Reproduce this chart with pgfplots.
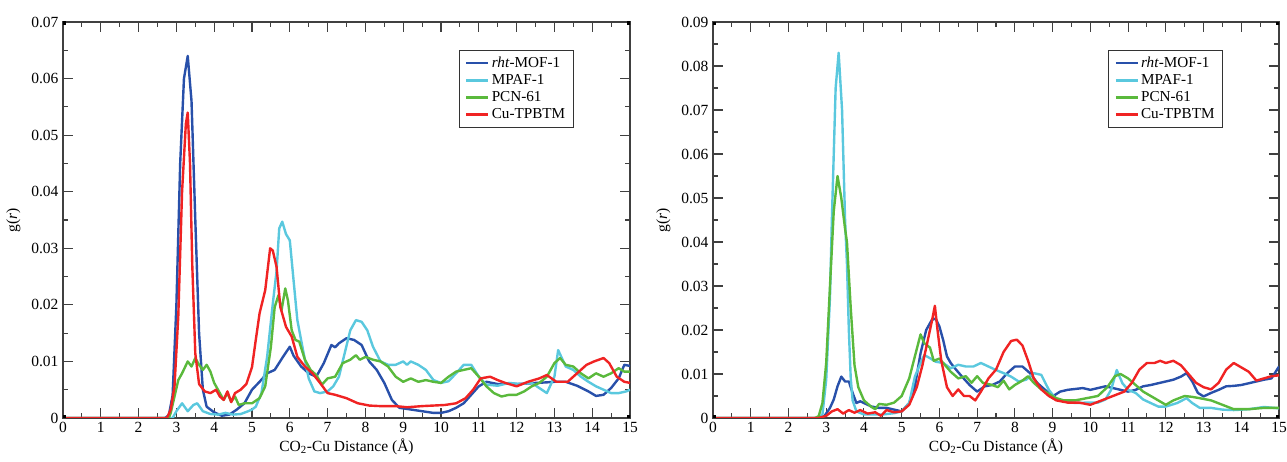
\documentclass[border=0pt]{standalone}
\usepackage{fontspec}
\setmainfont{Liberation Serif}
\usepackage{pgfplots}
\pgfplotsset{compat=1.18}

\definecolor{cBlue}{RGB}{40,80,170}
\definecolor{cCyan}{RGB}{90,200,222}
\definecolor{cGreen}{RGB}{90,185,60}
\definecolor{cRed}{RGB}{240,35,35}

\pgfplotsset{
  rdf/.style={
    scale only axis,
    anchor=south west,
    xmin=0, xmax=15, ymin=0,
    xtick distance=1,
    ytick distance=0.01,
    minor x tick num=1,
    minor y tick num=1,
    tick align=inside,
    major tick length=10pt,
    minor tick length=5pt,
    axis line style={line width=1.3pt, black!75},
    every tick/.style={line width=1.1pt, black!75},
    /pgf/number format/assume math mode=true,
    xticklabel={\pgfmathprintnumber{\tick}},
    yticklabel={\pgfmathprintnumber{\tick}},
    tick label style={font=\fontsize{15.5}{15.5}\selectfont},
    xticklabel style={yshift=-1pt},
    scaled y ticks=false,
    yticklabel style={/pgf/number format/fixed, /pgf/number format/precision=2, xshift=-1pt},
    xlabel={CO\textsubscript{2}-Cu Distance (Å)},
    ylabel={g(\textit{r})},
    label style={font=\fontsize{15.5}{15.5}\selectfont},
    xlabel style={yshift=1pt},
    ylabel style={yshift=4pt},
    legend style={
      at={(rel axis cs:0.698,0.93)}, anchor=north west,
      draw=black!80, line width=0.8pt,
      font=\fontsize{15.2}{19}\selectfont,
      inner xsep=6pt, inner ysep=5pt,
      row sep=1.5pt,
    },
    legend cell align=left,
    legend image code/.code={\draw[#1, line width=2.6pt] (0pt,0pt) -- (22pt,0pt);},
    every axis plot/.append style={line width=2.4pt, no markers, line join=round},
  },
}
\newcommand{\corners}{%
  \fill[black] (rel axis cs:0,0) ++(-3pt,-3pt) rectangle ++(6pt,6pt);
  \fill[black] (rel axis cs:1,0) ++(-3pt,-3pt) rectangle ++(6pt,6pt);
  \fill[black] (rel axis cs:0,1) ++(-3pt,-3pt) rectangle ++(6pt,6pt);
  \fill[black] (rel axis cs:1,1) ++(-3pt,-3pt) rectangle ++(6pt,6pt);
}

\begin{document}
\begin{tikzpicture}
\useasboundingbox (0,0) rectangle (1287pt,462pt);

% ---- left panel ----
\begin{axis}[rdf, at={(63pt,44pt)}, width=567pt, height=396pt, ymax=0.07]
\addplot[cBlue] coordinates {
(0,0)(2.7,0)(2.8,0.0005)(2.9,0.004)(3.0,0.02)(3.1,0.045)(3.2,0.06)(3.3,0.064)(3.4,0.056)(3.5,0.035)
(3.6,0.015)(3.7,0.005)(3.8,0.002)(4.0,0.001)(4.2,0.0004)(4.4,0.0006)(4.6,0.0015)(4.8,0.0026)(5.0,0.005)
(5.2,0.0064)(5.4,0.0079)(5.6,0.0085)(5.8,0.0106)(6.0,0.0126)(6.1,0.011)(6.3,0.0091)(6.5,0.0079)
(6.7,0.0073)(6.9,0.0097)(7.1,0.0129)(7.2,0.0125)(7.3,0.0132)(7.5,0.0141)(7.7,0.0138)(7.9,0.0129)
(8.1,0.010)(8.3,0.0085)(8.5,0.0062)(8.7,0.0032)(8.9,0.0018)(9.2,0.0015)(9.5,0.0012)(9.8,0.0009)
(10.0,0.0009)(10.2,0.0012)(10.4,0.0018)(10.6,0.0026)(10.8,0.0041)(11.0,0.0056)(11.2,0.0064)
(11.5,0.006)(11.8,0.0061)(12.0,0.006)(12.3,0.0061)(12.5,0.0062)(12.8,0.0063)(13.0,0.0064)
(13.3,0.0064)(13.6,0.0057)(13.9,0.0047)(14.1,0.0039)(14.3,0.0041)(14.5,0.0053)(14.7,0.007)
(14.85,0.0094)(15,0.0092)};
\addlegendentry{\textit{rht}-MOF-1}
\addplot[cCyan] coordinates {
(0,0)(2.9,0)(3.0,0.0012)(3.15,0.0026)(3.3,0.0012)(3.45,0.0023)(3.55,0.0026)(3.7,0.0012)(3.9,0.0007)
(4.1,0.0006)(4.3,0.0009)(4.5,0.0006)(4.7,0.0007)(4.9,0.0012)(5.0,0.0015)(5.1,0.002)(5.25,0.0044)
(5.4,0.0108)(5.55,0.0202)(5.65,0.026)(5.72,0.0335)(5.8,0.0347)(5.9,0.0325)(6.0,0.0314)(6.1,0.0243)
(6.2,0.0173)(6.35,0.012)(6.5,0.007)(6.65,0.0047)(6.8,0.0044)(7.0,0.0047)(7.15,0.0056)(7.3,0.0073)
(7.45,0.0114)(7.6,0.0155)(7.75,0.0173)(7.9,0.017)(8.05,0.0155)(8.2,0.0126)(8.4,0.010)(8.6,0.0094)
(8.8,0.0094)(9.0,0.010)(9.1,0.0094)(9.2,0.010)(9.4,0.0094)(9.6,0.0085)(9.8,0.0067)(10.0,0.0062)
(10.2,0.0065)(10.4,0.0079)(10.6,0.0094)(10.8,0.0094)(11.0,0.0073)(11.2,0.0059)(11.5,0.0057)
(11.8,0.0062)(12.1,0.006)(12.4,0.0062)(12.6,0.0053)(12.8,0.0044)(13.0,0.0073)(13.1,0.012)
(13.3,0.0091)(13.5,0.0085)(13.7,0.0073)(13.9,0.0064)(14.1,0.0056)(14.3,0.005)(14.5,0.0044)
(14.7,0.0044)(14.9,0.0047)(15,0.005)};
\addlegendentry{MPAF-1}
\addplot[cGreen] coordinates {
(0,0)(2.8,0)(2.85,0.0009)(2.95,0.0038)(3.05,0.0067)(3.15,0.0079)(3.3,0.010)(3.4,0.0091)(3.5,0.0106)
(3.6,0.0094)(3.7,0.0085)(3.8,0.0094)(3.9,0.0082)(4.0,0.0062)(4.1,0.005)(4.25,0.0032)(4.35,0.0044)
(4.45,0.0029)(4.55,0.0038)(4.65,0.0023)(4.8,0.0026)(5.0,0.0026)(5.2,0.0035)(5.35,0.0056)(5.5,0.0126)
(5.6,0.0196)(5.7,0.0217)(5.78,0.019)(5.88,0.0229)(5.95,0.0208)(6.05,0.0155)(6.15,0.0138)
(6.25,0.0135)(6.4,0.0103)(6.55,0.0085)(6.7,0.0076)(6.85,0.0059)(7.0,0.007)(7.2,0.0073)(7.4,0.0097)
(7.6,0.0103)(7.75,0.0111)(7.85,0.0103)(8.0,0.0108)(8.2,0.0103)(8.4,0.010)(8.6,0.0091)(8.8,0.0073)
(9.0,0.0064)(9.2,0.007)(9.4,0.0064)(9.6,0.0067)(9.8,0.0064)(10.0,0.0062)(10.2,0.0073)(10.4,0.0082)
(10.6,0.0085)(10.8,0.0088)(11.0,0.0073)(11.2,0.0056)(11.4,0.0044)(11.6,0.0038)(11.8,0.0041)
(12.0,0.0041)(12.2,0.0047)(12.4,0.0056)(12.6,0.0062)(12.8,0.0073)(13.0,0.0097)(13.15,0.0106)
(13.3,0.0094)(13.5,0.0091)(13.7,0.0079)(13.9,0.007)(14.1,0.0079)(14.3,0.0073)(14.5,0.0079)
(14.7,0.0088)(14.85,0.0082)(15,0.0082)};
\addlegendentry{PCN-61}
\addplot[cRed] coordinates {
(0,0)(2.75,0)(2.85,0.0015)(2.95,0.0056)(3.05,0.018)(3.15,0.040)(3.25,0.052)(3.3,0.054)(3.36,0.045)
(3.42,0.027)(3.5,0.0114)(3.6,0.006)(3.75,0.0047)(3.9,0.0044)(4.05,0.005)(4.15,0.0038)(4.25,0.0032)
(4.35,0.0047)(4.45,0.0028)(4.55,0.0044)(4.7,0.005)(4.85,0.006)(5.0,0.009)(5.1,0.0138)(5.2,0.0185)
(5.35,0.0226)(5.48,0.030)(5.55,0.0296)(5.65,0.0267)(5.75,0.0196)(5.9,0.0161)(6.05,0.0144)
(6.2,0.0108)(6.4,0.0091)(6.6,0.0079)(6.8,0.0062)(7.0,0.0044)(7.2,0.0041)(7.5,0.0035)(7.8,0.0026)
(8.1,0.0022)(8.4,0.0021)(8.8,0.0021)(9.1,0.0019)(9.5,0.0021)(9.8,0.0022)(10.1,0.0023)(10.4,0.0026)
(10.65,0.0035)(10.85,0.005)(11.05,0.007)(11.3,0.0073)(11.5,0.0067)(11.7,0.0062)(12.0,0.0056)
(12.3,0.0064)(12.6,0.007)(12.8,0.0076)(13.05,0.0064)(13.35,0.0064)(13.6,0.0079)(13.85,0.0094)
(14.05,0.010)(14.3,0.0106)(14.45,0.0097)(14.65,0.0073)(14.85,0.0064)(15,0.0062)};
\addlegendentry{Cu-TPBTM}
\corners
\end{axis}

% ---- right panel ----
\begin{axis}[rdf, at={(713pt,44pt)}, width=566pt, height=396pt, ymax=0.09]
\addplot[cBlue] coordinates {
(0,0)(2.8,0)(2.95,0.0004)(3.1,0.0023)(3.2,0.0042)(3.3,0.0072)(3.4,0.0094)(3.5,0.0083)(3.6,0.0083)
(3.7,0.0057)(3.8,0.0034)(3.9,0.0038)(4.0,0.0034)(4.2,0.0026)(4.4,0.0023)(4.6,0.0023)(4.8,0.0019)
(5.0,0.0015)(5.2,0.0034)(5.35,0.0072)(5.5,0.0147)(5.65,0.020)(5.8,0.0223)(5.9,0.0226)(6.0,0.0208)
(6.1,0.0177)(6.2,0.014)(6.3,0.0125)(6.45,0.0109)(6.6,0.0094)(6.8,0.0075)(7.0,0.006)(7.2,0.0072)
(7.4,0.0075)(7.6,0.0083)(7.8,0.0102)(8.0,0.0117)(8.2,0.0117)(8.4,0.0102)(8.6,0.0079)(8.8,0.0064)
(9.0,0.0049)(9.2,0.006)(9.4,0.0064)(9.6,0.0066)(9.8,0.0068)(10.0,0.0064)(10.2,0.0068)(10.4,0.0072)
(10.6,0.0068)(10.8,0.0064)(11.0,0.006)(11.2,0.0064)(11.4,0.0072)(11.6,0.0075)(11.8,0.0079)
(12.0,0.0083)(12.2,0.0087)(12.4,0.0094)(12.55,0.0102)(12.7,0.0083)(12.85,0.0057)(13.0,0.0049)
(13.2,0.0057)(13.4,0.0064)(13.6,0.0072)(13.8,0.0073)(14.0,0.0075)(14.2,0.0079)(14.4,0.0083)
(14.6,0.0087)(14.8,0.009)(15,0.0117)};
\addlegendentry{\textit{rht}-MOF-1}
\addplot[cCyan] coordinates {
(0,0)(2.8,0)(2.9,0.0008)(3.0,0.0087)(3.1,0.0275)(3.15,0.045)(3.25,0.075)(3.33,0.083)(3.42,0.070)
(3.5,0.045)(3.55,0.035)(3.6,0.020)(3.65,0.009)(3.7,0.004)(3.8,0.0015)(4.0,0.0008)(4.5,0.0008)
(4.8,0.0011)(5.0,0.0015)(5.2,0.0034)(5.35,0.0094)(5.5,0.0125)(5.6,0.0143)(5.75,0.0136)(5.9,0.0128)
(6.1,0.0125)(6.3,0.0113)(6.5,0.0121)(6.7,0.0117)(6.9,0.0117)(7.1,0.0125)(7.3,0.0117)(7.5,0.0109)
(7.7,0.0102)(7.9,0.0094)(8.1,0.0083)(8.3,0.0087)(8.5,0.0102)(8.7,0.0098)(8.9,0.0064)(9.1,0.0042)
(9.3,0.0038)(9.6,0.0034)(9.9,0.0035)(10.2,0.0035)(10.4,0.0042)(10.55,0.0064)(10.7,0.0109)
(10.85,0.0079)(11.0,0.0064)(11.2,0.0057)(11.4,0.0042)(11.6,0.0034)(11.8,0.0026)(12.0,0.0026)
(12.3,0.0034)(12.55,0.0045)(12.7,0.0034)(12.9,0.0023)(13.2,0.0023)(13.5,0.0019)(13.8,0.0018)
(14.2,0.002)(14.6,0.0025)(15,0.0022)};
\addlegendentry{MPAF-1}
\addplot[cGreen] coordinates {
(0,0)(2.7,0)(2.8,0.0004)(2.9,0.0034)(3.0,0.0125)(3.1,0.030)(3.2,0.047)(3.3,0.055)(3.4,0.050)
(3.5,0.043)(3.55,0.040)(3.65,0.025)(3.75,0.012)(3.85,0.007)(4.0,0.004)(4.2,0.0025)(4.3,0.002)
(4.4,0.0032)(4.6,0.003)(4.8,0.0035)(5.0,0.005)(5.2,0.009)(5.35,0.014)(5.5,0.019)(5.6,0.017)
(5.75,0.016)(5.85,0.013)(6.0,0.0135)(6.15,0.012)(6.3,0.0105)(6.5,0.009)(6.7,0.0095)(6.85,0.008)
(7.0,0.0095)(7.15,0.008)(7.4,0.0075)(7.55,0.007)(7.7,0.0085)(7.85,0.0065)(8.0,0.0075)(8.2,0.0085)
(8.35,0.0095)(8.5,0.008)(8.7,0.0065)(8.9,0.0055)(9.1,0.0045)(9.3,0.004)(9.6,0.004)(9.9,0.0045)
(10.2,0.005)(10.45,0.007)(10.65,0.0095)(10.8,0.010)(11.0,0.009)(11.2,0.0075)(11.4,0.006)
(11.6,0.005)(11.8,0.004)(12.0,0.003)(12.2,0.004)(12.5,0.005)(12.7,0.0048)(12.9,0.0045)(13.2,0.004)
(13.5,0.003)(13.8,0.002)(14.2,0.002)(14.6,0.0023)(15,0.0023)};
\addlegendentry{PCN-61}
\addplot[cRed] coordinates {
(0,0)(2.8,0)(3.0,0.0005)(3.15,0.0015)(3.3,0.002)(3.45,0.001)(3.6,0.0018)(3.75,0.0012)(3.9,0.0018)
(4.1,0.001)(4.3,0.0013)(4.45,0.0005)(4.6,0.0018)(4.8,0.0013)(5.0,0.0015)(5.2,0.003)(5.4,0.007)
(5.55,0.012)(5.7,0.018)(5.8,0.022)(5.88,0.0255)(5.95,0.020)(6.05,0.013)(6.2,0.007)(6.35,0.005)
(6.5,0.0065)(6.65,0.005)(6.8,0.005)(6.95,0.004)(7.1,0.006)(7.3,0.009)(7.5,0.011)(7.7,0.015)
(7.9,0.0175)(8.05,0.0178)(8.2,0.0165)(8.35,0.013)(8.5,0.009)(8.7,0.0065)(8.9,0.005)(9.1,0.004)
(9.4,0.0035)(9.7,0.0035)(10.0,0.003)(10.3,0.004)(10.6,0.005)(10.9,0.006)(11.1,0.008)(11.3,0.011)
(11.5,0.0125)(11.7,0.0125)(11.85,0.013)(12.0,0.0125)(12.2,0.013)(12.4,0.012)(12.6,0.010)
(12.8,0.008)(13.0,0.007)(13.2,0.0065)(13.4,0.008)(13.6,0.011)(13.8,0.0125)(14.0,0.0115)
(14.2,0.0105)(14.4,0.0085)(14.6,0.009)(14.8,0.0095)(15,0.0097)};
\addlegendentry{Cu-TPBTM}
\corners
\end{axis}
\end{tikzpicture}
\end{document}
